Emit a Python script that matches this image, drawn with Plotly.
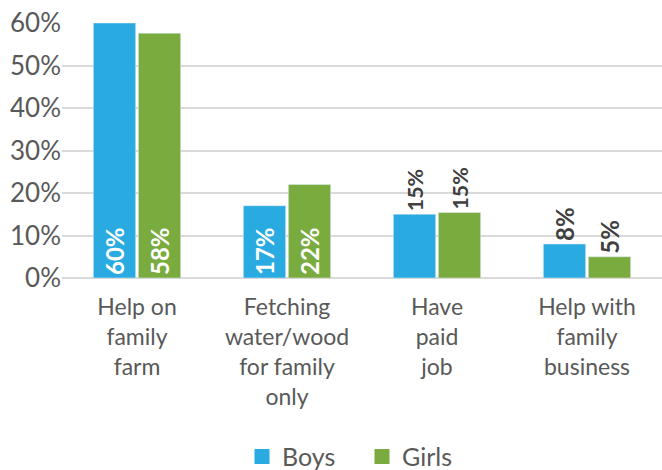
import plotly.graph_objects as go

categories = ["Help on<br>family<br>farm", "Fetching<br>water/wood<br>for family<br>only", "Have<br>paid<br>job", "Help with<br>family<br>business"]
boys = [60, 17, 15, 8]
girls = [57.6, 22, 15.4, 5]
boys_labels = ["60%", "17%", "15%", "8%"]
girls_labels = ["58%", "22%", "15%", "5%"]
label_pos = ["inside", "inside", "outside", "outside"]
series = [("Boys", boys, boys_labels, "#29ABE2"), ("Girls", girls, girls_labels, "#7AAB3F")]

FONT = "Lato"

fig = go.Figure()
for name, vals, labs, col in series:
    fig.add_trace(go.Bar(
        x=categories, y=vals, name=name, marker_color=col, showlegend=False,
        text=labs, textposition=label_pos, textangle=-90,
        insidetextanchor="start",
        outsidetextfont=dict(family=FONT, size=24, color="#404040", weight="bold"),
        insidetextfont=dict(family=FONT, size=24, color="white", weight="bold"),
        cliponaxis=False,
    ))
for name, vals, labs, col in series:
    fig.add_trace(go.Scatter(
        x=[None], y=[None], name=name, mode="markers",
        marker=dict(symbol="square", size=15, color=col), showlegend=True,
    ))

fig.update_layout(
    width=662, height=470,
    margin=dict(l=62, r=0, t=23, b=192, autoexpand=False),
    paper_bgcolor="white", plot_bgcolor="white",
    barmode="group", bargap=0.4, bargroupgap=0.06,
    font=dict(family=FONT, size=24, color="#595959"),
    legend=dict(orientation="h", x=0.5, xanchor="center", yref="container", y=0.028, yanchor="middle",
                font=dict(size=25, color="#595959"), itemwidth=30, entrywidth=75,
                traceorder="normal"),
    showlegend=True,
)
fig.update_yaxes(range=[0, 60], dtick=10, ticksuffix="%", showgrid=True, automargin=False,
                 gridcolor="#d9d9d9", gridwidth=2, zeroline=True, zerolinecolor="#d9d9d9",
                 zerolinewidth=2, tickfont=dict(size=26, color="#595959"), ticks="", showline=False)
fig.update_xaxes(showline=False, ticks="", automargin=False, ticklabelstandoff=13,
                 tickfont=dict(size=23, color="#595959"), tickangle=0)

fig.write_html("out.html")
